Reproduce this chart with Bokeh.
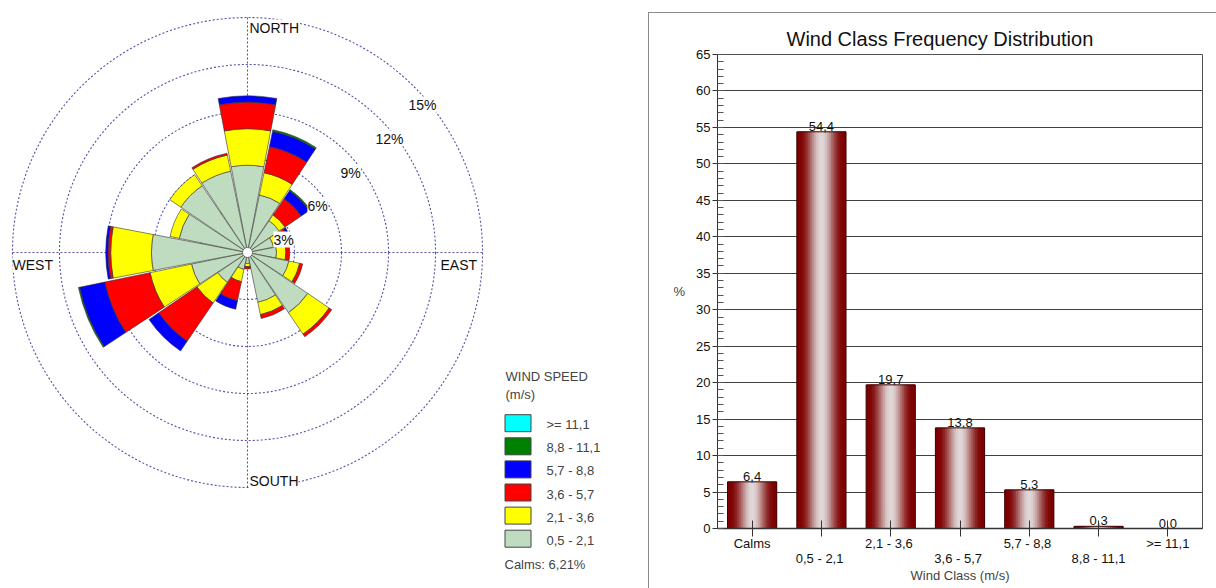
import math
from bokeh.plotting import figure
from bokeh.models import (Range1d, Label, FixedTicker, LinearAxis,
                          SingleIntervalTicker, Spacer)
from bokeh.layouts import row, column
from bokeh.embed import file_html
from bokeh.resources import INLINE
from bokeh.core.properties import value

FONT = "Liberation Sans"

# ------------------------------------------------------------------ data
directions = ["N", "NNE", "NE", "ENE", "E", "ESE", "SE", "SSE",
              "S", "SSW", "SW", "WSW", "W", "WNW", "NW", "NNW"]
speed_classes = ["0,5 -  2,1", "2,1 -  3,6", "3,6 -  5,7",
                 "5,7 -  8,8", "8,8 - 11,1", ">= 11,1"]
# frequency (%) per direction and speed class (read from the rose)
freq_05_21 = [5.57, 3.75, 2.45, 1.70, 1.85, 2.70, 4.65, 3.25,
              0.70, 1.10, 2.30, 3.65, 6.13, 4.45, 5.15, 5.30]
freq_21_36 = [2.33, 1.45, 0.45, 0.60, 0.60, 0.70, 1.65, 0.80,
              0.20, 0.80, 1.60, 2.70, 2.60, 0.60, 0.85, 1.05]
freq_36_57 = [1.70, 1.70, 1.25, 0.45, 0.25, 0.20, 0.20, 0.25,
              0.15, 1.25, 2.95, 2.95, 0.17, 0.00, 0.00, 0.12]
freq_57_88 = [0.40, 1.00, 0.62, 0.15, 0.00, 0.00, 0.00, 0.00,
              0.00, 0.55, 0.75, 1.65, 0.15, 0.00, 0.00, 0.00]
freq_88_111 = [0.00, 0.10, 0.08, 0.00, 0.00, 0.00, 0.00, 0.00,
               0.00, 0.00, 0.00, 0.07, 0.00, 0.00, 0.00, 0.00]
freq_111 = [0.00, 0.00, 0.00, 0.00, 0.00, 0.00, 0.00, 0.00,
            0.00, 0.00, 0.00, 0.00, 0.00, 0.00, 0.00, 0.00]
ring_values = [3, 6, 9, 12, 15]
ring_labels = ["3%", "6%", "9%", "12%", "15%"]
calms_text = "Calms: 6,21%"

bar_title = "Wind Class Frequency Distribution"
bar_classes = ["Calms", "0,5 -  2,1", "2,1 -  3,6", "3,6 -  5,7",
               "5,7 -  8,8", "8,8 - 11,1", ">= 11,1"]
bar_values = [6.4, 54.4, 19.7, 13.8, 5.3, 0.3, 0.0]

# ------------------------------------------------------------------ style
class_colors = ["#c0dcc0", "#ffff00", "#ff0000", "#0000ff", "#008000", "#00ffff"]
RING = "#5252a8"
PX = 15.67            # pixels per percent on the rose
CX, CY = 247, 252     # rose centre in pixels
W_L, H_L = 648, 588


def dx(px):
    return (px - CX) / PX


def dy(py):
    return (CY - py) / PX


# ------------------------------------------------------------------ wind rose
rose = figure(width=W_L, height=H_L,
              x_range=Range1d(dx(0), dx(W_L)), y_range=Range1d(dy(H_L), dy(0)),
              output_backend="svg", toolbar_location=None, min_border=0,
              x_axis_location=None, y_axis_location=None)
rose.grid.visible = False
rose.outline_line_color = None
rose.background_fill_color = "white"

R = max(ring_values)
rose.circle(x=[0] * len(ring_values), y=[0] * len(ring_values), radius=ring_values,
            fill_color=None, line_color=RING, line_dash="2 2", line_width=1.1)
rose.segment(x0=[-R, 0], y0=[0, -R], x1=[R, 0], y1=[0, R],
             line_color=RING, line_dash="2 2", line_width=1.1)

series = [freq_05_21, freq_21_36, freq_36_57, freq_57_88, freq_88_111, freq_111]
hw = math.radians(10.8)
step = 360.0 / len(directions)
cum = [0.0] * len(directions)
for k, s in enumerate(series):
    inner, outer, st, en = [], [], [], []
    for i in range(len(directions)):
        v = s[i]
        if v > 0:
            a = math.radians(90 - i * step)
            inner.append(cum[i])
            outer.append(cum[i] + v)
            st.append(a - hw)
            en.append(a + hw)
        cum[i] += v
    if inner:
        rose.annular_wedge(x=[0] * len(inner), y=[0] * len(inner),
                           inner_radius=inner, outer_radius=outer,
                           start_angle=st, end_angle=en,
                           fill_color=class_colors[k], line_color="#333333",
                           line_width=0.6)

rose.circle(x=[0], y=[0], radius=0.32, fill_color="white", line_color="#555555",
            line_width=0.8)

# compass labels
for txt, px, py in [("NORTH", 249, 27), ("SOUTH", 249, 480),
                    ("WEST", 12, 264), ("EAST", 440, 264)]:
    rose.add_layout(Label(x=dx(px), y=dy(py), text=txt, text_align="left",
                          text_baseline="middle", text_font=FONT,
                          text_font_size="14px", text_color="#111111",
                          background_fill_color="white"))

# ring labels
ring_label_px = [(283, 239), (317, 205), (350, 172), (389, 138), (422, 104)]
for txt, (px, py) in zip(ring_labels, ring_label_px):
    rose.add_layout(Label(x=dx(px), y=dy(py), text=txt, text_align="center",
                          text_baseline="middle", text_font=FONT,
                          text_font_size="14px", text_color="#111111",
                          background_fill_color="white"))

# legend
rose.add_layout(Label(x=dx(505), y=dy(376), text="WIND SPEED", text_align="left",
                      text_baseline="middle", text_font=FONT, text_font_size="13px"))
rose.add_layout(Label(x=dx(505), y=dy(394), text="(m/s)", text_align="left",
                      text_baseline="middle", text_font=FONT, text_font_size="13px"))
n = len(speed_classes)
box_y = [422.7 + 23.1 * j for j in range(n)]
leg_cols = list(reversed(class_colors))
leg_txt = list(reversed(speed_classes))
rose.rect(x=[dx(517.5)] * n, y=[dy(v) for v in box_y], width=26 / PX, height=17 / PX,
          fill_color=leg_cols, line_color="#444444", line_width=1)
for j in range(n):
    rose.add_layout(Label(x=dx(546), y=dy(box_y[j] + 1.5), text=leg_txt[j],
                          text_align="left", text_baseline="middle",
                          text_font=FONT, text_font_size="13px"))
rose.add_layout(Label(x=dx(504), y=dy(564), text=calms_text, text_align="left",
                      text_baseline="middle", text_font=FONT, text_font_size="13px"))

# ------------------------------------------------------------------ bar chart
B_W, B_H = 568, 576
B_LEFT, B_RIGHT, B_TOP, B_BOTTOM = 68, 15, 41, 61
idx = list(range(len(bar_classes)))
bars = figure(width=B_W, height=B_H,
              x_range=Range1d(-0.5, len(bar_classes) - 0.5), y_range=Range1d(0, 65),
              output_backend="svg", toolbar_location=None,
              min_border_left=B_LEFT, min_border_right=B_RIGHT,
              min_border_top=B_TOP, min_border_bottom=B_BOTTOM,
              x_axis_location=None,
              styles={"border-left": "1px solid #8a8a8a",
                      "border-top": "1px solid #8a8a8a"})
bars.outline_line_color = "#505050"
bars.outline_line_width = 1

bars.title.text = bar_title
bars.title.align = "left"
bars.title.offset = 941 - 648 - B_LEFT - 156
bars.title.standoff = 9
bars.title.text_font = FONT
bars.title.text_font_size = "20px"
bars.title.text_font_style = "normal"
bars.title.text_color = "#111111"

yax = bars.yaxis[0]
yax.ticker = SingleIntervalTicker(interval=5, num_minor_ticks=5)
yax.major_tick_out = 5
yax.major_tick_in = 0
yax.minor_tick_in = 6
yax.minor_tick_out = 0
yax.major_label_standoff = 2
yax.major_label_text_font = FONT
yax.major_label_text_font_size = "13px"
yax.major_label_text_color = "#111111"
yax.axis_line_color = "#333333"
yax.major_tick_line_color = "#333333"
yax.minor_tick_line_color = "#555555"
yax.axis_label = "%"
yax.axis_label_orientation = "horizontal"
yax.axis_label_text_font = FONT
yax.axis_label_text_font_size = "13px"
yax.axis_label_text_font_style = "normal"
yax.axis_label_standoff = 8

bars.xgrid.visible = False
bars.ygrid.ticker = SingleIntervalTicker(interval=5)
bars.ygrid.grid_line_color = "#404040"
bars.ygrid.grid_line_width = 1

ax1 = LinearAxis(ticker=FixedTicker(ticks=idx),
                 major_label_overrides={i: (bar_classes[i] if i % 2 == 0 else "")
                                        for i in idx},
                 major_tick_in=8, major_tick_out=8, major_label_standoff=-1,
                 axis_line_color="#333333", axis_line_width=1.5,
                 major_tick_line_color="#333333",
                 major_label_text_font=FONT, major_label_text_font_size="13px",
                 major_label_text_color="#111111")
odd = [i for i in idx if i % 2 == 1]
ax2 = LinearAxis(ticker=FixedTicker(ticks=odd),
                 major_label_overrides={i: bar_classes[i] for i in odd},
                 major_tick_in=0, major_tick_out=0, major_label_standoff=-3,
                 axis_line_color=None, major_tick_line_color=None,
                 major_label_text_font=FONT, major_label_text_font_size="13px",
                 major_label_text_color="#111111",
                 axis_label="Wind Class (m/s)", axis_label_standoff=-1,
                 axis_label_text_font=FONT, axis_label_text_font_size="13px",
                 axis_label_text_font_style="normal")
bars.add_layout(ax1, "below")
bars.add_layout(ax2, "below")

# cylinder-like gradient bars built from overlapping thin strips
NSTR = 26
BW = 0.71
dark = (125, 0, 0)
light = (224, 216, 216)
sw = BW / NSTR
for j in range(NSTR):
    u = (j + 0.5) / NSTR * 2 - 1
    t = ((1 + math.cos(math.pi * u)) / 2) ** 1.4
    col = "#%02x%02x%02x" % tuple(int(round(d + (l - d) * t)) for d, l in zip(dark, light))
    left = -BW / 2 + j * sw
    w = sw * (1.9 if j < NSTR - 1 else 1.0)
    bars.vbar(x=[i + left + w / 2 for i in idx], top=bar_values, bottom=0,
              width=w, fill_color=col, line_color=None)
bars.vbar(x=idx, top=bar_values, bottom=0, width=BW, fill_color=None,
          line_color="#3a0000", line_width=1)
bars.text(x=idx, y=bar_values, text=[("%.1f" % v).replace(".", ",") for v in bar_values],
          text_align="center", text_baseline="bottom", y_offset=-1,
          text_font=value(FONT), text_font_size="13px", text_color="#111111")

layout = row(rose, column(Spacer(width=B_W, height=12), bars))
open("out.html", "w").write(file_html(layout, INLINE))
